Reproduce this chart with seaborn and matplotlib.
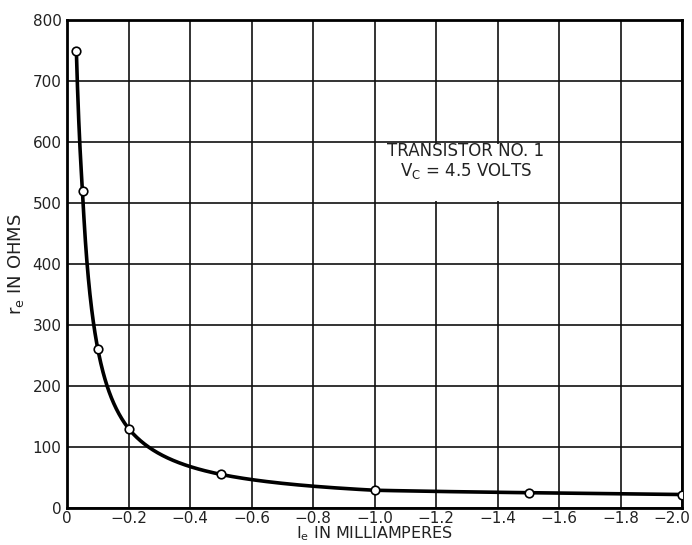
import numpy as np
import pandas as pd
import matplotlib
matplotlib.use("Agg")
import matplotlib.pyplot as plt
import matplotlib.transforms as mtransforms
from matplotlib.patches import Rectangle
import seaborn as sns

# Data
emitter_current_ma = [-0.03, -0.05, -0.1, -0.2, -0.5, -1.0, -1.5, -2.0]
emitter_resistance_ohms = [750, 520, 260, 130, 55, 29, 25, 22]
x_ticks = [0, -0.2, -0.4, -0.6, -0.8, -1.0, -1.2, -1.4, -1.6, -1.8, -2.0]
x_tick_labels = ["0", "\u22120.2", "\u22120.4", "\u22120.6", "\u22120.8", "\u22121.0",
                 "\u22121.2", "\u22121.4", "\u22121.6", "\u22121.8", "\u22122.0"]
y_ticks = [0, 100, 200, 300, 400, 500, 600, 700, 800]

sns.set_style("white")
plt.rcParams["font.family"] = ["DejaVu Sans"]

df = pd.DataFrame({"I": emitter_current_ma, "r": emitter_resistance_ohms})

# smooth drawing of the curve: interpolation in log-log space between measured points
lx = np.log(-df["I"].values)
ly = np.log(df["r"].values)
dense = np.linspace(lx[0], lx[-1], 400)
curve = pd.DataFrame({"I": -np.exp(dense), "r": np.exp(np.interp(dense, lx, ly))})

fig = plt.figure(figsize=(6.92, 5.45), dpi=100)
ax = fig.add_axes([0.097, 0.068, 0.889, 0.895])

sns.lineplot(data=curve, x="I", y="r", ax=ax, color="black", linewidth=2.6,
             sort=False, estimator=None, zorder=4)
sns.scatterplot(data=df, x="I", y="r", ax=ax, marker="o", s=38,
                facecolor="white", edgecolor="black", linewidth=1.2, zorder=5)

ax.set_xlim(0, -2.0)
ax.set_ylim(0, 800)
ax.set_xticks(x_ticks)
ax.set_xticklabels(x_tick_labels)
ax.set_yticks(y_ticks)
ax.grid(True, color="#111111", linewidth=1.2)
ax.set_axisbelow(True)
for s in ax.spines.values():
    s.set_color("black")
    s.set_linewidth(2.0)
ax.tick_params(axis="both", length=0, labelsize=11, colors="#222222")
ax.tick_params(axis="x", pad=2)
ax.tick_params(axis="y", pad=4)

# last x tick label shifted slightly left (as in the original print)
last = ax.get_xticklabels()[-1]
last.set_transform(last.get_transform() +
                   mtransforms.ScaledTranslation(-10 / 100, 0, fig.dpi_scale_trans))

ax.set_xlabel(r"I$_{\mathrm{e}}$ IN MILLIAMPERES", fontsize=11.5, color="#222222")
ax.xaxis.set_label_coords(0.5, -0.053)
ax.xaxis.label.set_va("center")
ax.set_ylabel(r"r$_{\mathrm{e}}$ IN OHMS", fontsize=13, color="#222222")
ax.yaxis.set_label_coords(-0.083, 0.5)
ax.yaxis.label.set_va("center")

# white cell behind the annotation
ax.add_patch(Rectangle((-1.6 + 0.006, 503), 0.588, 94, facecolor="white",
                       edgecolor="none", zorder=2.5))
ax.text(-1.295, 568, "TRANSISTOR NO. 1\n" + r"V$_{\mathrm{C}}$ = 4.5 VOLTS",
        ha="center", va="center", fontsize=12, color="#222222",
        linespacing=1.1, zorder=3)

fig.savefig("out.png", dpi=100)
